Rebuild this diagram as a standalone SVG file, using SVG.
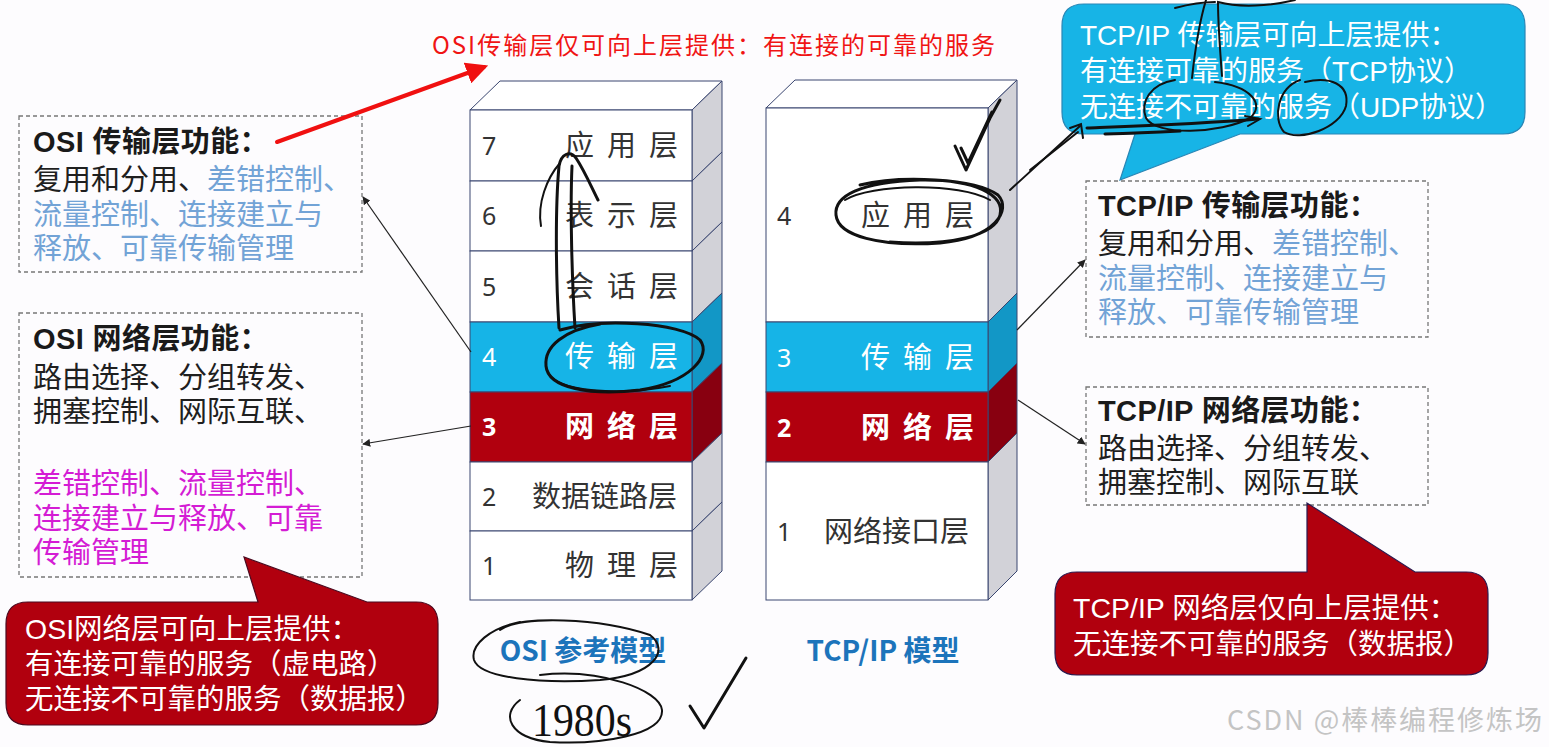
<svg xmlns="http://www.w3.org/2000/svg" width="1549" height="747" viewBox="0 0 1549 747">
<defs>
<style>
.cjk{font-family:"Liberation Sans","Noto Sans CJK SC",sans-serif}
.lay{font-family:"Noto Sans CJK SC",sans-serif;font-size:29px;fill:#333}
.num{font-family:"Noto Sans","Liberation Sans",sans-serif;font-size:25px;fill:#333}
.wt{fill:#fff}
.bold{font-weight:bold}
.edge{stroke:#3a4670;stroke-width:1}
.wf{fill:#fff}
.ws{fill:#d2d2d8}
.bf{fill:#16b4e7}
.bs{fill:#1297c6}
.rf{fill:#b1000e}
.rs{fill:#880010}
.box{fill:none;stroke:#777;stroke-width:1.3;stroke-dasharray:4 3}
.t28{font-size:29px}
.dk{fill:#1f1f1f}
.lb{fill:#72a3d6}
.mg{fill:#d41cd4}
.conn{stroke:#222;stroke-width:1.2;fill:none}
.hw{stroke:#111;stroke-width:3;fill:none;stroke-linecap:round;stroke-linejoin:round}
.hw2{stroke:#111;stroke-width:2;fill:none;stroke-linecap:round}
.cap{font-family:"Noto Sans CJK SC",sans-serif;font-size:28px;font-weight:bold;fill:#1c74bb}
.ttl{font-weight:bold;fill:#1a1a1a;letter-spacing:0.4px}
</style>
<marker id="ah" viewBox="0 0 10 10" refX="9" refY="5" markerWidth="8" markerHeight="8" orient="auto" markerUnits="userSpaceOnUse">
<path d="M0,0 L10,5 L0,10 Z" fill="#222"/>
</marker>
<marker id="rah" viewBox="0 0 10 10" refX="8" refY="5" markerWidth="22" markerHeight="22" orient="auto" markerUnits="userSpaceOnUse">
<path d="M0,0 L10,5 L0,10 Z" fill="#f01010"/>
</marker>
</defs>
<rect width="1549" height="747" fill="#fdfcfe"/>

<!-- OSI stack -->
<g id="osi-stack">
<polygon class="wf edge" points="470,110 500,81 722,81 692,110"/>
<polygon class="ws edge" points="692,110 722,81 722,152 692,181"/>
<polygon class="ws edge" points="692,181 722,152 722,222 692,251"/>
<polygon class="ws edge" points="692,251 722,222 722,293 692,322"/>
<polygon class="bs edge" points="692,322 722,293 722,363 692,392"/>
<polygon class="rs edge" points="692,392 722,363 722,433 692,462"/>
<polygon class="ws edge" points="692,462 722,433 722,502 692,531"/>
<polygon class="ws edge" points="692,531 722,502 722,571 692,600"/>
<rect class="wf edge" x="470" y="110" width="222" height="71"/>
<rect class="wf edge" x="470" y="181" width="222" height="70"/>
<rect class="wf edge" x="470" y="251" width="222" height="71"/>
<rect class="bf edge" x="470" y="322" width="222" height="70"/>
<rect class="rf edge" x="470" y="392" width="222" height="70"/>
<rect class="wf edge" x="470" y="462" width="222" height="69"/>
<rect class="wf edge" x="470" y="531" width="222" height="69"/>
<text class="num" x="482" y="155">7</text>
<text class="lay" x="565 607 649" y="156">应用层</text>
<text class="num" x="482" y="225">6</text>
<text class="lay" x="565 607 649" y="226">表示层</text>
<text class="num" x="482" y="296">5</text>
<text class="lay" x="565 607 649" y="297">会话层</text>
<text class="num wt" x="482" y="366">4</text>
<text class="lay wt" x="565 607 649" y="367">传输层</text>
<text class="num wt bold" x="482" y="436">3</text>
<text class="lay wt bold" x="565 607 649" y="437">网络层</text>
<text class="num" x="482" y="506">2</text>
<text class="lay" x="532" y="507">数据链路层</text>
<text class="num" x="482" y="575">1</text>
<text class="lay" x="565 607 649" y="576">物理层</text>
</g>

<!-- TCP/IP stack -->
<g id="tcpip-stack">
<polygon class="wf edge" points="766,108 795,80 1017,80 988,108"/>
<polygon class="ws edge" points="988,108 1017,80 1017,293 988,322"/>
<polygon class="bs edge" points="988,322 1017,293 1017,363 988,392"/>
<polygon class="rs edge" points="988,392 1017,363 1017,433 988,462"/>
<polygon class="ws edge" points="988,462 1017,433 1017,571 988,600"/>
<rect class="wf edge" x="766" y="108" width="222" height="214"/>
<rect class="bf edge" x="766" y="322" width="222" height="70"/>
<rect class="rf edge" x="766" y="392" width="222" height="70"/>
<rect class="wf edge" x="766" y="462" width="222" height="138"/>
<text class="num" x="777" y="225">4</text>
<text class="lay" x="861 903 945" y="226">应用层</text>
<text class="num wt" x="777" y="367">3</text>
<text class="lay wt" x="861 903 945" y="368">传输层</text>
<text class="num wt bold" x="777" y="437">2</text>
<text class="lay wt bold" x="861 903 945" y="438">网络层</text>
<text class="num" x="777" y="541">1</text>
<text class="lay" x="824" y="542">网络接口层</text>
</g>

<g id="cap-osi"><text class="cap" x="583" y="661" text-anchor="middle">OSI 参考模型</text></g>
<g id="cap-tcp"><text class="cap" x="883" y="661" text-anchor="middle">TCP/IP 模型</text></g>

<!-- Left boxes -->
<g id="osi-transport-box">
<rect class="box" x="19" y="116" width="343" height="156"/>
<text class="cjk t28"><tspan class="ttl" x="33" y="152">OSI 传输层功能：</tspan><tspan class="dk" x="33" y="190">复用和分用、</tspan><tspan class="lb">差错控制、</tspan><tspan class="lb" x="33" y="225">流量控制、连接建立与</tspan><tspan class="lb" x="33" y="259">释放、可靠传输管理</tspan></text>
</g>
<g id="osi-network-box">
<rect class="box" x="19" y="313" width="343" height="264"/>
<text class="cjk t28"><tspan class="ttl" x="33" y="349">OSI 网络层功能：</tspan><tspan class="dk" x="33" y="388">路由选择、分组转发、</tspan><tspan class="dk" x="33" y="422">拥塞控制、网际互联、</tspan><tspan class="mg" x="33" y="494">差错控制、流量控制、</tspan><tspan class="mg" x="33" y="529">连接建立与释放、可靠</tspan><tspan class="mg" x="33" y="563">传输管理</tspan></text>
</g>

<!-- Right boxes -->
<g id="tcp-transport-box">
<rect class="box" x="1086" y="181" width="342" height="156"/>
<text class="cjk t28"><tspan class="ttl" x="1098" y="216">TCP/IP 传输层功能：</tspan><tspan class="dk" x="1098" y="254">复用和分用、</tspan><tspan class="lb">差错控制、</tspan><tspan class="lb" x="1098" y="289">流量控制、连接建立与</tspan><tspan class="lb" x="1098" y="323">释放、可靠传输管理</tspan></text>
</g>
<g id="tcp-network-box">
<rect class="box" x="1086" y="387" width="342" height="118"/>
<text class="cjk t28"><tspan class="ttl" x="1098" y="421">TCP/IP 网络层功能：</tspan><tspan class="dk" x="1098" y="459">路由选择、分组转发、</tspan><tspan class="dk" x="1098" y="493">拥塞控制、网际互联</tspan></text>
</g>

<!-- Callouts -->
<g id="tcp-transport-callout">
<path d="M1084,4 H1503 Q1525,4 1525,26 V112 Q1525,134 1503,134 H1240 L1120,180 L1135,134 H1084 Q1062,134 1062,112 V26 Q1062,4 1084,4 Z" fill="#17b4e6" stroke="#2a86b5" stroke-width="1.2"/>
<text class="cjk wt" font-size="28"><tspan x="1080" y="45">TCP/IP 传输层可向上层提供：</tspan><tspan x="1080" y="81">有连接可靠的服务（TCP协议）</tspan><tspan x="1080" y="117">无连接不可靠的服务（UDP协议）</tspan></text>
</g>
<g id="osi-network-callout">
<path d="M28,602 H258 L244,557 L367,602 H416 Q438,602 438,624 V703 Q438,725 416,725 H28 Q6,725 6,703 V624 Q6,602 28,602 Z" fill="#b1000e" stroke="#4a0a20" stroke-width="1.2"/>
<text class="cjk wt" font-size="28.5"><tspan x="25" y="639">OSI网络层可向上层提供：</tspan><tspan x="25" y="674">有连接可靠的服务（虚电路）</tspan><tspan x="25" y="709">无连接不可靠的服务（数据报）</tspan></text>
</g>
<g id="tcp-network-callout">
<path d="M1077,572 H1307 V503 L1415,572 H1466 Q1488,572 1488,594 V653 Q1488,675 1466,675 H1077 Q1055,675 1055,653 V594 Q1055,572 1077,572 Z" fill="#b1000e" stroke="#2a1a50" stroke-width="1.2"/>
<text class="cjk wt" font-size="28.5"><tspan x="1073" y="618">TCP/IP 网络层仅向上层提供：</tspan><tspan x="1073" y="654">无连接不可靠的服务（数据报）</tspan></text>
</g>

<g id="red-note">
<text font-family="Noto Sans CJK SC,sans-serif" font-size="24" fill="#f01414" x="432" y="54" textLength="563" lengthAdjust="spacing">OSI传输层仅可向上层提供：有连接的可靠的服务</text>
</g>

<!-- Connectors -->
<g id="connectors">
<line class="conn" x1="471" y1="352" x2="363" y2="197" marker-end="url(#ah)"/>
<line class="conn" x1="471" y1="426" x2="363" y2="444" marker-end="url(#ah)"/>
<line class="conn" x1="1017" y1="330" x2="1085" y2="260" marker-end="url(#ah)"/>
<line class="conn" x1="1018" y1="400" x2="1085" y2="444" marker-end="url(#ah)"/>
<line x1="277" y1="142" x2="484" y2="67" stroke="#f01010" stroke-width="4" stroke-linecap="round" marker-end="url(#rah)"/>
</g>

<!-- Handwritten annotations -->
<g id="handwriting">
<path class="hw" d="M559,328 C556,280 555,210 559,166 C561,154 570,150 576,158 C584,170 591,186 598,200"/>
<path class="hw" d="M575,328 C572,280 570,210 572,166"/>
<path class="hw2" d="M560,163 C547,178 537,203 541,226"/>
<path class="hw" d="M560,330 C600,318 680,322 700,340 C712,356 690,382 640,390 C590,396 548,388 546,366 C544,346 565,330 600,324"/>
<path class="hw2" d="M548,372 C556,392 620,396 670,386"/>
<path class="hw" d="M860,185 C900,175 975,178 998,195 C1012,210 995,238 940,243 C880,247 838,236 836,215 C834,196 860,182 920,180 C975,179 1005,195 1000,215 C995,236 950,246 890,242"/>
<path class="hw2" d="M845,200 C870,184 960,182 990,200"/>
<path class="hw" d="M955,146 L966,170 L990,118 L1000,100"/>
<path class="hw" d="M961,148 L968,163 L992,112"/>
<path class="hw2" d="M1010,190 L1080,126"/>
<path class="hw2" d="M1030,170 L1078,132"/>
<path class="hw2" d="M1070,128 L1081,124 L1083,138"/>
<path class="hw" d="M1087,128 C1140,126 1200,124 1258,119"/>
<path class="hw" d="M1105,134 C1140,133 1160,132 1180,131"/>
<path class="hw2" d="M1245,116 L1260,119 L1248,126"/>
<path class="hw2" d="M1175,80 C1150,84 1140,102 1146,118 C1156,136 1220,134 1250,118 C1266,104 1250,86 1215,82"/>
<path class="hw2" d="M1300,80 C1278,88 1272,118 1284,132 C1300,142 1340,128 1346,106 C1350,84 1330,76 1305,82"/>
<path class="hw2" d="M1192,78 C1195,50 1200,20 1206,0"/>
<path class="hw2" d="M1222,76 C1220,50 1218,20 1218,2 C1240,8 1270,6 1295,0"/>
<path class="hw2" d="M1175,8 C1190,4 1205,2 1215,2"/>
<path class="hw2" d="M500,630 C520,615 600,618 650,635 C670,650 655,675 600,680 C540,684 480,678 474,660 C470,645 490,628 520,622"/>
<path class="hw2" d="M540,675 C600,668 660,690 662,710 C664,735 600,745 550,742 C510,738 500,715 520,700"/>
<path class="hw" d="M690,706 L704,728 L746,658"/>
<text x="532" y="736" font-family="Liberation Serif,serif" font-size="46" fill="#111" textLength="100" lengthAdjust="spacingAndGlyphs">1980s</text>
</g>

<g id="watermark">
<text font-family="Noto Sans CJK SC,sans-serif" font-size="27" fill="#c4c4c4" x="1227" y="730" textLength="315" lengthAdjust="spacing">CSDN @棒棒编程修炼场</text>
</g>
</svg>
